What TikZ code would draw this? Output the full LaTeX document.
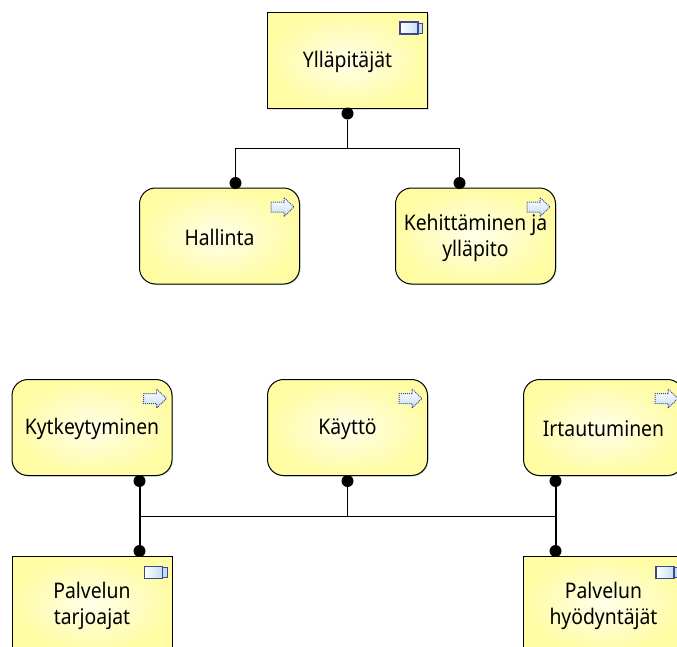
\documentclass[tikz,border=0pt]{standalone}
\usepackage{fontspec}
\setmainfont[FakeStretch=0.9]{Noto Sans}
\usetikzlibrary{shadows,calc}
\definecolor{boxouter}{HTML}{FFFCA4}
\definecolor{boxinner}{HTML}{FFFFEA}
\definecolor{iconline}{HTML}{3C4A8C}
\definecolor{iconfill}{HTML}{C4DDF8}
\tikzset{
  x=1pt,y=-1pt,
  boxbase/.style={draw=black,line width=1pt,minimum width=160pt,minimum height=96pt,inner sep=0pt,
    inner color=boxinner,outer color=boxouter,
    drop shadow={shadow xshift=1pt,shadow yshift=-1pt,fill=black!30,opacity=.5}},
  actor/.style={boxbase,rectangle},
  process/.style={boxbase,rounded corners=16pt},
  label/.style={font=\fontsize{21.5pt}{26pt}\selectfont,align=center,text=black,yshift=-1.5pt},
  dot/.style={circle,fill=black,inner sep=0pt,minimum size=12pt},
  thinline/.style={draw=black,line width=1pt},
  thickline/.style={draw=black,line width=2pt},
  compicon/.pic={
    \shade[draw=iconline,line width=1.6pt,left color=white,right color=iconfill] (-28,10) rectangle (-10,22);
    \fill[iconfill,draw=iconline,line width=1pt] (-10,11) rectangle (-5.5,21);
  },
  arrowicon/.pic={
    \shade[draw=iconline,line width=1pt,densely dotted,top color=white,bottom color=iconfill]
      (-29,14.5) -- (-16,14.5) -- (-16,10) -- (-6,19.5) -- (-16,29) -- (-16,24.5) -- (-29,24.5) -- cycle;
  },
}
\begin{document}
\begin{tikzpicture}
\useasboundingbox (0,0) rectangle (677,646);
\clip (0,0) rectangle (677,646);
\fill[white] (0,0) rectangle (677,646);

\node[actor] (yp) at (347.5,60.5) {};
\node[process] (ha) at (219.5,236) {};
\node[process] (ke) at (475.5,236) {};
\node[process] (ky) at (92,427.5) {};
\node[process] (ka) at (347.5,427.5) {};
\node[process] (ir) at (603.5,427.5) {};
\node[actor] (pt) at (92,604) {};
\node[actor] (ph) at (603.5,604) {};

\pic at (yp.north east) {compicon};
\pic at ($(pt.north east)+(0,1)$) {compicon};
\pic at ($(ph.north east)+(0,1)$) {compicon};
\pic at (ha.north east) {arrowicon};
\pic at (ke.north east) {arrowicon};
\pic at (ky.north east) {arrowicon};
\pic at (ka.north east) {arrowicon};
\pic at (ir.north east) {arrowicon};

\node[label] (typ) at (yp) {Ylläpitäjät};
\node[label] (tha) at (ha) {Hallinta};
\node[label] (tke) at (ke) {Kehittäminen ja\\ylläpito};
\node[label] (tky) at (ky) {Kytkeytyminen};
\node[label] (tka) at (ka) {Käyttö};
\node[label] (tir) at (ir) {Irtautuminen};
\node[label] (tpt) at (pt) {Palvelun\\tarjoajat};
\node[label] (tph) at (ph) {Palvelun\\hyödyntäjät};

\node[dot] (d1) at (347.5,113.5) {};
\node[dot] (d2) at (235.5,183) {};
\node[dot] (d3) at (459.5,183) {};
\node[dot] (d4) at (139.5,481) {};
\node[dot] (d5) at (347.5,481) {};
\node[dot] (d6) at (555.5,481) {};
\node[dot] (d7) at (139.5,551) {};
\node[dot] (d8) at (555.5,551) {};

\coordinate (j1) at (347.5,148.5);
\coordinate (bl) at (139.5,516);
\coordinate (bm) at (347.5,516);
\coordinate (br) at (555.5,516);

\draw[thinline] (d1) -- (j1);
\draw[thinline] (d2) |- (j1);
\draw[thinline] (d3) |- (j1);
\draw[thickline] (d4) -- (d7);
\draw[thickline] (d6) -- (d8);
\draw[thinline] (bl) -- (br);
\draw[thinline] (d5) -- (bm);
\end{tikzpicture}
\end{document}
